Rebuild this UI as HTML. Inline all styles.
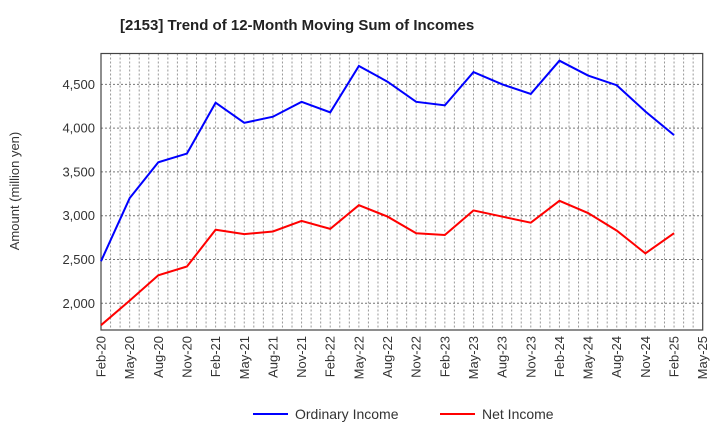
<!DOCTYPE html>
<html><head><meta charset="utf-8"><style>
body{margin:0;background:#fff;font-family:"Liberation Sans",sans-serif;}
</style></head><body>
<svg id="chart" width="720" height="440" xmlns="http://www.w3.org/2000/svg" font-family="Liberation Sans, sans-serif">
<text x="120" y="30" font-size="15" font-weight="bold" fill="#222">[2153]  Trend of 12-Month Moving Sum of Incomes</text>
<text transform="translate(19,191) rotate(-90)" text-anchor="middle" font-size="13" fill="#333">Amount (million yen)</text>
<g id="grid"></g><g id="axes"></g><g id="series"></g>
<g>
<line x1="253" y1="414" x2="288" y2="414" stroke="#0000ff" stroke-width="2"/>
<text x="295" y="419" font-size="14" fill="#333">Ordinary Income</text>
<line x1="440" y1="414" x2="475" y2="414" stroke="#ff0000" stroke-width="2"/>
<text x="482" y="419" font-size="14" fill="#333">Net Income</text>
</g>
</svg>
<script>
const xLabels=["Feb-20","May-20","Aug-20","Nov-20","Feb-21","May-21","Aug-21","Nov-21","Feb-22","May-22","Aug-22","Nov-22","Feb-23","May-23","Aug-23","Nov-23","Feb-24","May-24","Aug-24","Nov-24","Feb-25","May-25"];
const yTicks=[2000,2500,3000,3500,4000,4500];
const ordinaryIncome=[2480,3200,3610,3710,4290,4060,4130,4300,4180,4710,4530,4300,4260,4640,4500,4390,4770,4600,4490,4190,3920];
const netIncome=[1750,2030,2320,2420,2840,2790,2820,2940,2850,3120,2990,2800,2780,3060,2990,2920,3170,3030,2830,2570,2800];
const NS="http://www.w3.org/2000/svg";
const L=101,R=702.7,T=53.5,B=330,yMin=1695,yMax=4852,months=63;
const xm=m=>L+(R-L)*m/months;
const xq=i=>xm(i*3);
const y=v=>B-(v-yMin)/(yMax-yMin)*(B-T);
function mk(tag,attrs,parent){const e=document.createElementNS(NS,tag);for(const k in attrs)e.setAttribute(k,attrs[k]);parent.appendChild(e);return e;}
const grid=document.getElementById('grid'),axes=document.getElementById('axes'),series=document.getElementById('series');
for(let m=1;m<months;m++){const g=mk('line',{x1:xm(m),x2:xm(m),y1:T,y2:B,stroke:'#999','stroke-width':1,'stroke-dasharray':'2,2'},grid);

}
yTicks.forEach(v=>{const g=mk('line',{x1:L,x2:R,y1:y(v),y2:y(v),stroke:'#777','stroke-width':1,'stroke-dasharray':'2,2'},grid);


const t=mk('text',{x:L-6,y:y(v)+4.5,'text-anchor':'end','font-size':13,fill:'#333'},axes);t.textContent=v.toLocaleString('en-US');

});
const frame=mk('rect',{x:L,y:T,width:R-L,height:B-T,fill:'none',stroke:'#444','stroke-width':1.2},axes);


xLabels.forEach((lab,i)=>{const x=xq(i);const t=mk('text',{transform:`translate(${x+4.5},${B+6}) rotate(-90)`,'text-anchor':'end','font-size':13,fill:'#333'},axes);t.textContent=lab;

});
function line(data,color,name){const p=mk('polyline',{points:data.map((v,i)=>xq(i)+','+y(v)).join(' '),fill:'none',stroke:color,'stroke-width':2,'stroke-linejoin':'miter'},series);

}
line(ordinaryIncome,'#0000ff','ordinary-income-line');
line(netIncome,'#ff0000','net-income-line');
</script>
</body></html>
